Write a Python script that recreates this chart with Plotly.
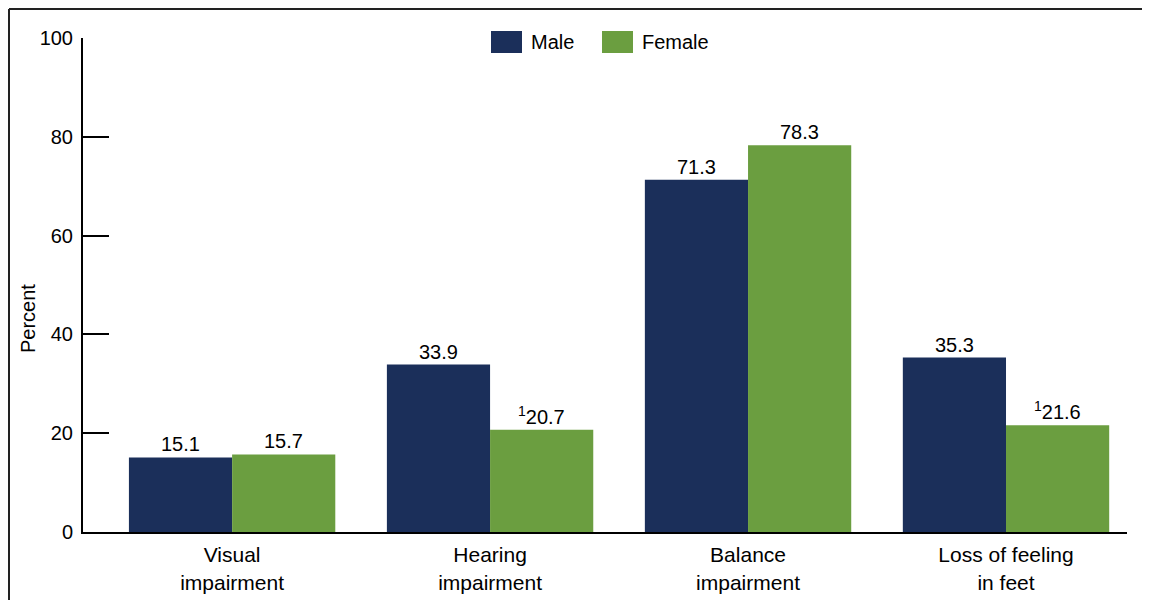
import plotly.graph_objects as go

categories = ["Visual<br>impairment", "Hearing<br>impairment", "Balance<br>impairment", "Loss of feeling<br>in feet"]
male = [15.1, 33.9, 71.3, 35.3]
female = [15.7, 20.7, 78.3, 21.6]
male_labels = ["15.1", "33.9", "71.3", "35.3"]
female_labels = ["15.7", "<sup>1</sup>20.7", "78.3", "<sup>1</sup>21.6"]
y_ticks = [0, 20, 40, 60, 80, 100]

NAVY = "#1b2f5a"
GREEN = "#6b9e40"
FONT = "Liberation Sans, Arial, sans-serif"

fig = go.Figure()
fig.add_trace(go.Bar(x=categories, y=male, name="Male", marker=dict(color=NAVY, line=dict(width=0))))
fig.add_trace(go.Bar(x=categories, y=female, name="Female", marker=dict(color=GREEN, line=dict(width=0))))

# page offsets: the page body has an 8px margin
def px_to_paper_x(px):
    return (px - 83) / 1044

def py_to_paper_y(py):
    return (532 - py) / 494

shapes = []
# frame (top and left)
shapes.append(dict(type="line", xref="paper", yref="paper",
                   x0=px_to_paper_x(9), x1=px_to_paper_x(1160), y0=py_to_paper_y(9), y1=py_to_paper_y(9),
                   line=dict(color="#222222", width=2)))
shapes.append(dict(type="line", xref="paper", yref="paper",
                   x0=px_to_paper_x(9), x1=px_to_paper_x(9), y0=py_to_paper_y(9), y1=py_to_paper_y(610),
                   line=dict(color="#222222", width=2)))
# legend swatches
for (x0, x1, col) in [(491, 522, NAVY), (602, 633, GREEN)]:
    shapes.append(dict(type="rect", xref="paper", yref="paper",
                       x0=px_to_paper_x(x0), x1=px_to_paper_x(x1), y0=py_to_paper_y(53), y1=py_to_paper_y(31),
                       fillcolor=col, line=dict(width=0)))

annotations = [
    dict(text="Male", xref="paper", yref="paper", x=px_to_paper_x(529), y=py_to_paper_y(42),
         xanchor="left", yanchor="middle", showarrow=False, font=dict(size=20, color="#000000", family=FONT)),
    dict(text="Female", xref="paper", yref="paper", x=px_to_paper_x(640), y=py_to_paper_y(42),
         xanchor="left", yanchor="middle", showarrow=False, font=dict(size=20, color="#000000", family=FONT)),
    dict(text="Percent", xref="paper", yref="paper", x=px_to_paper_x(28), y=py_to_paper_y(319),
         xanchor="center", yanchor="middle", textangle=-90, showarrow=False,
         font=dict(size=20, color="#000000", family=FONT)),
]
for i, (v, t) in enumerate(zip(male, male_labels)):
    annotations.append(dict(text=t, x=i - 0.2, y=v, xref="x", yref="y", xanchor="center", yanchor="bottom",
                            yshift=0, showarrow=False, font=dict(size=20, color="#000000", family=FONT)))
for i, (v, t) in enumerate(zip(female, female_labels)):
    annotations.append(dict(text=t, x=i + 0.2, y=v, xref="x", yref="y", xanchor="center", yanchor="bottom",
                            yshift=0, showarrow=False, font=dict(size=20, color="#000000", family=FONT)))

fig.update_layout(
    width=1142, height=592,
    margin=dict(l=75, r=23, t=30, b=68, pad=0, autoexpand=False),
    paper_bgcolor="white", plot_bgcolor="white",
    barmode="group", bargap=0.2, bargroupgap=0,
    showlegend=False,
    font=dict(family=FONT, size=20, color="#000000"),
    shapes=shapes, annotations=annotations,
)
fig.update_xaxes(range=[-0.578, 3.469], showline=True, linecolor="#000000", linewidth=2,
                 ticks="", showgrid=False, zeroline=False, ticklabelstandoff=3, automargin=False,
                 tickfont=dict(size=21, family=FONT, color="#000000"))
fig.update_yaxes(range=[0, 100], tickvals=y_ticks, showline=True, linecolor="#000000", linewidth=2,
                 ticks="inside", ticklen=26, tickwidth=2, tickcolor="#000000",
                 showgrid=False, zeroline=False, ticklabelstandoff=4, automargin=False,
                 tickfont=dict(size=20, family=FONT, color="#000000"))

fig.write_html("out.html")
